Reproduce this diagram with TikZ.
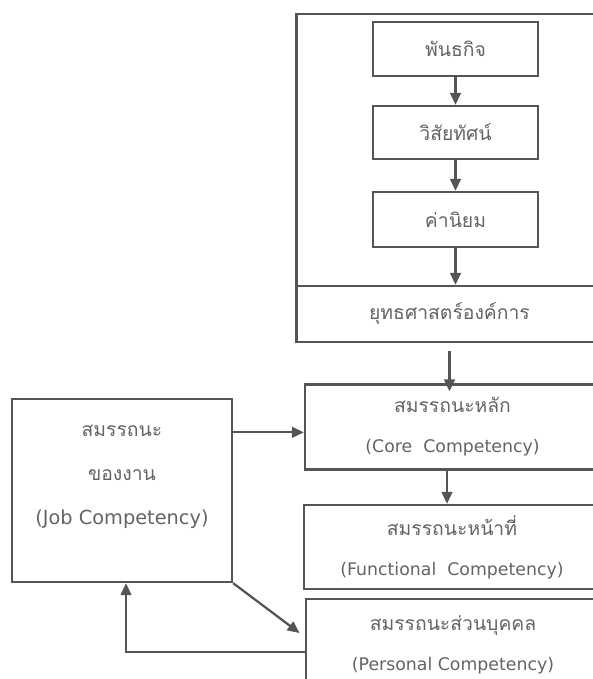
\documentclass[tikz,border=0pt]{standalone}
\usepackage{fontspec}
\setmainfont{DejaVu Sans}
\newfontfamily\thaifont[Script=Thai]{Loma}
\usetikzlibrary{arrows.meta}
\definecolor{linegray}{HTML}{555555}
\definecolor{textgray}{HTML}{636363}
\tikzset{
  box/.style={draw=linegray, line width=1.7pt, rectangle, inner sep=0pt,
    text=textgray, align=center},
  link/.style={draw=linegray, line width=1.7pt, -{Triangle[length=9pt,width=8pt]}},
  en/.style={font=\fontsize{13}{16}\selectfont}
}
\newcommand{\thtxt}[1]{{\thaifont\fontsize{14.5}{16}\selectfont #1}}
\begin{document}
\begin{tikzpicture}[x=0.75pt, y=-0.75pt, en]
    \useasboundingbox (0,0) rectangle (593,679);
    % Organisation frame
    \node[box, minimum width=229.5pt, minimum height=204pt] (frame) at (449.5,150) {};
    \node[box, minimum width=229.5pt, minimum height=42pt] (strat) at (449.5,314)
        {\thtxt{ยุทธศาสตร์องค์การ}};
    \node[box, minimum width=123.75pt, minimum height=40.5pt] (mission) at (455.5,49)
        {\thtxt{พันธกิจ}};
    \node[box, minimum width=123.75pt, minimum height=39.75pt] (vision) at (455.5,132.5)
        {\thtxt{วิสัยทัศน์}};
    \node[box, minimum width=123.75pt, minimum height=41.25pt] (values) at (455.5,219.5)
        {\thtxt{ค่านิยม}};

    % Competency boxes
    \node[box, minimum width=221.25pt, minimum height=63.75pt] (core) at (452.5,427)
        {\thtxt{สมรรถนะหลัก}\\[14pt](Core\ \ Competency)};
    \node[box, minimum width=222pt, minimum height=63pt] (func) at (452,547)
        {\thtxt{สมรรถนะหน้าที่}\\[14pt](Functional\ \ Competency)};
    \node[box, minimum width=220.5pt, minimum height=69pt] (pers) at (453,645)
        {\thtxt{สมรรถนะส่วนบุคคล}\\[14pt](Personal Competency)};
    \node[box, minimum width=165pt, minimum height=137.25pt] (job) at (122,490.5) {};
    \node[text=textgray, align=center, font=\fontsize{14.5}{16}\selectfont] (jobtext) at (122,477)
        {\thtxt{สมรรถนะ}\\[17pt]\thtxt{ของงาน}\\[17pt](Job Competency)};

    % Top chain
    \draw[link] (mission) -- (vision);
    \draw[link] (vision) -- (values);
    \draw[link] (values.south) -- (values.south |- strat.north);
    \draw[link] ([yshift=-6pt]strat.south) -- ([yshift=-6pt]strat.south |- core.north);
    \draw[link] (core.south -| 447,0) -- (func.north -| 447,0);

    % Job competency links
    \draw[link] ([yshift=-4pt]core.west -| job.east) -- ([yshift=-4pt]core.west);
    \draw[link] (job.south east) -- ([yshift=9pt, xshift=-4pt]pers.west);
    \draw[link] ([yshift=-5pt]pers.west) -| (job.south -| 126,0);
\end{tikzpicture}
\end{document}
